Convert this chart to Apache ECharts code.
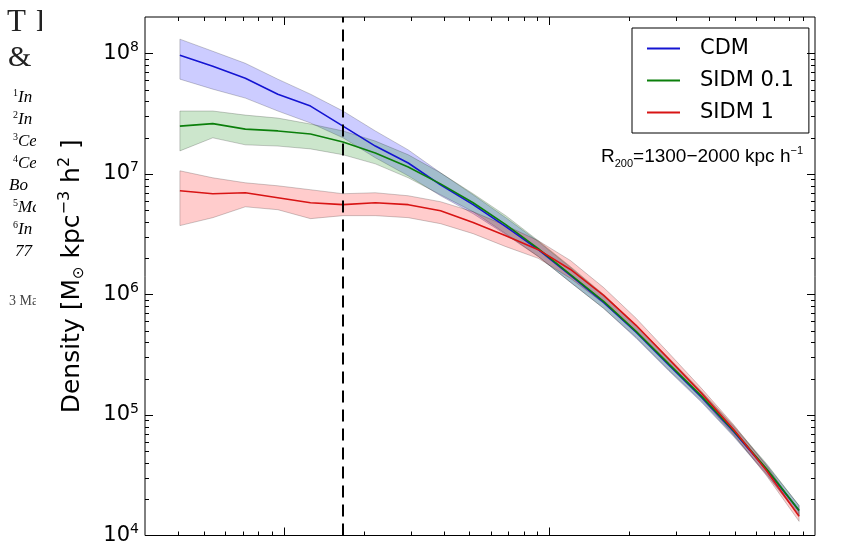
<!DOCTYPE html>
<html><head><meta charset="utf-8">
<script src="https://cdn.jsdelivr.net/npm/echarts@6/dist/echarts.min.js"></script>
<style>html,body{margin:0;padding:0;background:#fff}#c{width:846px;height:546px}</style>
</head><body><div id="c"></div>
<script>
// radius bins (kpc h^-1)
const radius = [4.06, 5.40, 7.16, 9.49, 12.6, 16.7, 22.1, 29.4, 38.9, 51.6, 68.5, 90.8, 120, 160, 212, 282, 373, 495, 657, 871];

// CDM
const cdm   = [9.62e7, 7.81e7, 6.21e7, 4.58e7, 3.65e7, 2.49e7, 1.70e7, 1.23e7, 8.11e6, 5.55e6, 3.65e6, 2.35e6, 1.44e6, 8.59e5, 4.85e5, 2.59e5, 1.41e5, 7.24e4, 3.51e4, 1.61e4];
const cdmHi = [1.31e8, 1.04e8, 8.26e7, 6.10e7, 4.58e7, 3.32e7, 2.27e7, 1.58e7, 1.02e7, 6.70e6, 4.33e6, 2.74e6, 1.67e6, 9.81e5, 5.44e5, 2.90e5, 1.55e5, 7.96e4, 3.86e4, 1.77e4];
const cdmLo = [6.10e7, 5.04e7, 4.25e7, 3.32e7, 2.64e7, 1.99e7, 1.36e7, 9.62e6, 6.58e6, 4.67e6, 3.13e6, 2.06e6, 1.26e6, 7.66e5, 4.33e5, 2.31e5, 1.28e5, 6.58e4, 3.19e4, 1.46e4];

// SIDM 0.1
const sidm01   = [2.49e7, 2.61e7, 2.35e7, 2.27e7, 2.14e7, 1.84e7, 1.49e7, 1.14e7, 8.26e6, 5.76e6, 3.79e6, 2.40e6, 1.46e6, 8.75e5, 4.94e5, 2.64e5, 1.44e5, 7.38e4, 3.58e4, 1.61e4];
const sidm01Hi = [3.32e7, 3.32e7, 3.07e7, 2.90e7, 2.59e7, 2.27e7, 1.87e7, 1.44e7, 1.02e7, 6.84e6, 4.50e6, 2.79e6, 1.70e6, 1.00e6, 5.54e5, 2.96e5, 1.58e5, 8.11e4, 3.94e4, 1.77e4];
const sidm01Lo = [1.55e7, 1.99e7, 1.74e7, 1.70e7, 1.61e7, 1.44e7, 1.21e7, 9.27e6, 6.70e6, 4.85e6, 3.19e6, 2.06e6, 1.26e6, 7.66e5, 4.41e5, 2.35e5, 1.31e5, 6.70e4, 3.25e4, 1.46e4];

// SIDM 1
const sidm1   = [7.24e6, 6.84e6, 6.97e6, 6.34e6, 5.76e6, 5.55e6, 5.76e6, 5.55e6, 4.94e6, 3.94e6, 3.07e6, 2.35e6, 1.61e6, 9.81e5, 5.54e5, 2.90e5, 1.52e5, 7.52e4, 3.44e4, 1.44e4];
const sidm1Hi = [1.06e7, 9.27e6, 8.43e6, 7.96e6, 7.38e6, 6.84e6, 6.97e6, 6.58e6, 5.87e6, 4.85e6, 3.72e6, 2.79e6, 1.91e6, 1.14e6, 6.34e5, 3.25e5, 1.67e5, 8.26e4, 3.79e4, 1.58e4];
const sidm1Lo = [3.72e6, 4.33e6, 5.33e6, 5.04e6, 4.25e6, 4.50e6, 4.50e6, 4.33e6, 3.86e6, 3.19e6, 2.49e6, 1.99e6, 1.36e6, 8.43e5, 4.85e5, 2.59e5, 1.38e5, 6.84e4, 3.13e4, 1.31e4];

const seriesNames = ['CDM', 'SIDM 0.1', 'SIDM 1'];
const convergenceRadius = 16.7;

// axes
const X_MIN = 3, X_MAX = 1000, Y_MIN = 1e4, Y_MAX = 2e8;
const xMajorTicks = [10, 100];
const xDecades = [1, 10, 100];
const yMajorTicks = [1e5, 1e6, 1e7, 1e8];
const yDecades = [1e4, 1e5, 1e6, 1e7];
const minorMultipliers = [2, 3, 4, 5, 6, 7, 8, 9];
const xMinorTicks = [];
xDecades.forEach(d => minorMultipliers.forEach(m => { const v = d * m; if (v > X_MIN && v < X_MAX) xMinorTicks.push(v); }));
const yMinorTicks = [];
yDecades.forEach(d => minorMultipliers.forEach(m => { const v = d * m; if (v > Y_MIN && v < Y_MAX) yMinorTicks.push(v); }));

const colors = ['#1414d2', '#0b7f0b', '#d81414'];
const fills = ['rgba(0,0,255,0.2)', 'rgba(0,128,0,0.2)', 'rgba(255,0,0,0.2)'];

function bandSeries(lo, hi, fill) {
  return {
    type: 'custom', silent: true, clip: true, z: 2,
    data: radius.map((r, i) => [r, lo[i], hi[i]]),
    encode: { x: 0, y: [1, 2] },
    renderItem: (params, api) => {
      if (params.dataIndex !== 0) return null;
      const pts = [];
      for (let i = 0; i < radius.length; i++) pts.push(api.coord([radius[i], hi[i]]));
      for (let i = radius.length - 1; i >= 0; i--) pts.push(api.coord([radius[i], lo[i]]));
      return { type: 'polygon', shape: { points: pts }, style: { fill: fill, stroke: 'rgba(0,0,0,0.2)', lineWidth: 1 } };
    }
  };
}

function lineSeries(name, vals, color, extra) {
  return Object.assign({
    type: 'line', name: name, data: radius.map((r, i) => [r, vals[i]]),
    symbol: 'none', smooth: false, z: 3, color: color,
    lineStyle: { color: color, width: 1.6 }, itemStyle: { color: color }
  }, extra || {});
}

function tickSeries(values, axis, len) {
  return {
    type: 'custom', silent: true, z: 6,
    data: values.map(v => axis === 'x' ? [v, Y_MIN] : [X_MIN, v]),
    renderItem: (params, api) => {
      const v = values[params.dataIndex];
      let lines;
      if (axis === 'x') {
        const a = api.coord([v, Y_MIN]), b = api.coord([v, Y_MAX]);
        const x = Math.round(a[0]) + 0.5;
        lines = [[x, a[1], x, a[1] - len], [x, b[1], x, b[1] + len]];
      } else {
        const a = api.coord([X_MIN, v]), b = api.coord([X_MAX, v]);
        const y = Math.round(a[1]) + 0.5;
        lines = [[a[0], y, a[0] + len, y], [b[0], y, b[0] - len, y]];
      }
      return { type: 'group', children: lines.map(l => ({ type: 'line', shape: { x1: l[0], y1: l[1], x2: l[2], y2: l[3] }, style: { stroke: '#000', lineWidth: 1 } })) };
    }
  };
}

const chart = echarts.init(document.getElementById('c'), null, { renderer: 'canvas' });

const leftTexts = [
  { t: '{s|1}{i|In}', y: 98 }, { t: '{s|2}{i|In}', y: 120 }, { t: '{s|3}{i|Ce}', y: 142 }, { t: '{s|4}{i|Ce}', y: 164 },
  { t: '{i|Bo}', y: 186, x: 9 }, { t: '{s|5}{i|Ma}', y: 208 }, { t: '{s|6}{i|In}', y: 230 }, { t: '{i|77}', y: 252, x: 15 }
];
const paperRich = {
  s: { fontSize: 10, fontFamily: 'Liberation Serif', color: '#444', verticalAlign: 'top', lineHeight: 10 },
  i: { fontSize: 17, fontFamily: 'Liberation Serif', fontStyle: 'italic', color: '#444', lineHeight: 20 }
};

const graphic = [];
graphic.push({ type: 'text', x: 7, y: 23, z: -3, style: { text: 'T', font: '31px "Liberation Serif"', fill: '#222', textVerticalAlign: 'middle' } });
graphic.push({ type: 'text', x: 36, y: 23, z: -3, style: { text: 'H', font: '31px "Liberation Serif"', fill: '#222', textVerticalAlign: 'middle' } });
graphic.push({ type: 'text', x: 8, y: 58, z: -3, style: { text: '&', font: '30px "Liberation Serif"', fill: '#222', textVerticalAlign: 'middle' } });
leftTexts.forEach(o => graphic.push({ type: 'text', x: o.x || 13, y: o.y, z: -3, style: { text: o.t, rich: paperRich, textVerticalAlign: 'middle' } }));
graphic.push({ type: 'text', x: 9, y: 301, z: -3, style: { text: '3 Ma', font: '14px "Liberation Serif"', fill: '#444', textVerticalAlign: 'middle' } });
graphic.push({ type: 'rect', shape: { x: 42, y: 0, width: 804, height: 45 }, z: -2, style: { fill: '#fff' }, silent: true });
graphic.push({ type: 'rect', shape: { x: 36, y: 45, width: 810, height: 501 }, z: -2, style: { fill: '#fff' }, silent: true });
graphic.push({
  type: 'text', x: 803, y: 157, z: 10,
  style: {
    text: '{r|R}{b|200}{r|=1300\u22122000 kpc h}{p|\u22121}',
    rich: {
      r: { fontSize: 19, fontFamily: 'Liberation Sans', color: '#000', lineHeight: 24 },
      b: { fontSize: 11, fontFamily: 'Liberation Sans', color: '#000', verticalAlign: 'bottom', lineHeight: 11 },
      p: { fontSize: 11, fontFamily: 'Liberation Sans', color: '#000', verticalAlign: 'top', lineHeight: 11 }
    },
    textAlign: 'right', textVerticalAlign: 'middle'
  }
});

const option = {
  backgroundColor: '#fff',
  animation: false,
  grid: { left: 145, right: 31, top: 17, bottom: 8, show: true, borderColor: '#000', borderWidth: 1, backgroundColor: 'transparent', containLabel: false },
  xAxis: {
    type: 'log', logBase: 10, min: X_MIN, max: X_MAX,
    axisLine: { show: false }, axisTick: { show: false }, axisLabel: { show: false }, splitLine: { show: false }
  },
  yAxis: {
    type: 'log', logBase: 10, min: Y_MIN, max: Y_MAX,
    axisLine: { show: false }, axisTick: { show: false }, splitLine: { show: false },
    axisLabel: {
      margin: 6,
      formatter: v => { const e = Math.log10(v); const r = Math.round(e); if (Math.abs(e - r) > 1e-6) return ''; return '{b|10}{e|' + r + '}'; },
      rich: {
        b: { fontSize: 21, fontFamily: 'DejaVu Sans', color: '#000', lineHeight: 26 },
        e: { fontSize: 14, fontFamily: 'DejaVu Sans', color: '#000', verticalAlign: 'top', lineHeight: 14 }
      }
    },
    name: '{t|Density [M}{s|\u2299}{t| kpc}{p|\u22123}{t| h}{p|2}{t| ]}',
    nameLocation: 'middle', nameGap: 58, nameRotate: 90,
    nameTextStyle: {
      rich: {
        t: { fontSize: 25, fontFamily: 'DejaVu Sans', color: '#000', lineHeight: 30 },
        s: { fontSize: 15, fontFamily: 'DejaVu Sans', color: '#000', verticalAlign: 'bottom', lineHeight: 15 },
        p: { fontSize: 16, fontFamily: 'DejaVu Sans', color: '#000', verticalAlign: 'top', lineHeight: 16 }
      }
    }
  },
  legend: {
    orient: 'vertical', left: 632, top: 28, data: seriesNames, icon: 'rect', itemWidth: 33, itemHeight: 2, itemGap: 11,
    padding: [10, 15, 10, 15], borderColor: '#000', borderWidth: 1, backgroundColor: '#fff', selectedMode: false,
    textStyle: { fontFamily: 'DejaVu Sans', fontSize: 21, color: '#000', padding: [0, 0, 0, 15], lineHeight: 20 }
  },
  graphic: graphic,
  series: [
    bandSeries(cdmLo, cdmHi, fills[0]),
    bandSeries(sidm01Lo, sidm01Hi, fills[1]),
    bandSeries(sidm1Lo, sidm1Hi, fills[2]),
    lineSeries(seriesNames[0], cdm, colors[0]),
    lineSeries(seriesNames[1], sidm01, colors[1]),
    lineSeries(seriesNames[2], sidm1, colors[2], {
      markLine: {
        silent: true, symbol: ['none', 'none'], label: { show: false },
        lineStyle: { color: '#000', type: [12, 7], width: 2 },
        data: [{ xAxis: convergenceRadius }]
      }
    }),
    tickSeries(xMajorTicks, 'x', 8),
    tickSeries(xMinorTicks, 'x', 4),
    tickSeries(yMajorTicks, 'y', 8),
    tickSeries(yMinorTicks, 'y', 4)
  ]
};
chart.setOption(option);
</script>
</body></html>
